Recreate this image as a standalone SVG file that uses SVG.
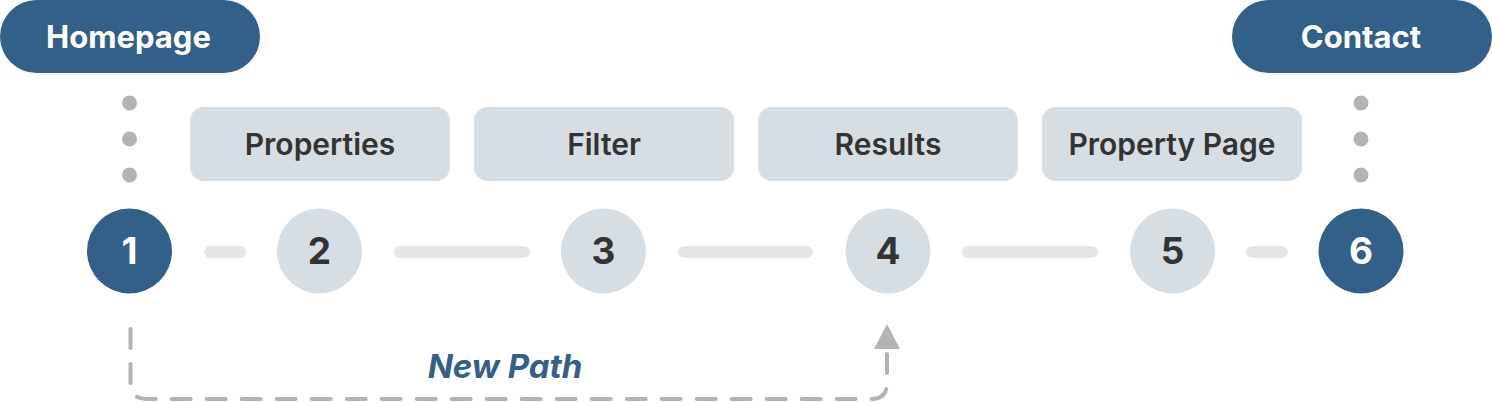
<svg xmlns="http://www.w3.org/2000/svg" width="1492" height="402" viewBox="0 0 1492 402">
<style>
.pill{fill:#336089}
.pilltxt{font-family:Inter,"Noto Sans",sans-serif;font-weight:700;font-size:31px;fill:#ffffff;text-anchor:middle}
.box{fill:#d6dde3}
.boxtxt{font-family:Inter,"Noto Sans",sans-serif;font-weight:600;font-size:30px;fill:#333333;text-anchor:middle}
.dot{fill:#b3b3b3}
.cdark{fill:#336089}
.clight{fill:#d6dde3}
.numw{font-family:Inter,"Noto Sans",sans-serif;font-weight:700;font-size:37px;fill:#ffffff;text-anchor:middle}
.numd{font-family:Inter,"Noto Sans",sans-serif;font-weight:700;font-size:37px;fill:#333333;text-anchor:middle}
.seg{stroke:#e5e5e5;stroke-width:12;stroke-linecap:round;fill:none}
.dash{stroke:#b3b3b3;stroke-width:4;stroke-linecap:round;stroke-dasharray:19 16;fill:none}
.label{font-family:Inter,"Noto Sans",sans-serif;font-weight:700;font-style:italic;font-size:33px;fill:#336089;text-anchor:middle}
</style>
<g id="homepage">
<rect class="pill" x="0" y="0" width="260" height="73" rx="36.5"/>
<text class="pilltxt" x="128.5" y="48">Homepage</text>
</g>
<g id="contact">
<rect class="pill" x="1232" y="0" width="260" height="73" rx="36.5"/>
<text class="pilltxt" x="1361" y="48">Contact</text>
</g>
<g id="properties">
<rect class="box" x="190" y="107" width="260" height="74" rx="14"/>
<text class="boxtxt" x="320" y="155">Properties</text>
</g>
<g id="filter">
<rect class="box" x="474" y="107" width="260" height="74" rx="14"/>
<text class="boxtxt" x="604" y="155">Filter</text>
</g>
<g id="results">
<rect class="box" x="758" y="107" width="260" height="74" rx="14"/>
<text class="boxtxt" x="888" y="155">Results</text>
</g>
<g id="property-page">
<rect class="box" x="1042" y="107" width="260" height="74" rx="14"/>
<text class="boxtxt" x="1172" y="155">Property Page</text>
</g>
<g id="step1">
<circle class="cdark" cx="129.5" cy="251" r="42.5"/>
<text class="numw" x="129.5" y="264">1</text>
</g>
<g id="step2">
<circle class="clight" cx="319.5" cy="251" r="42.5"/>
<text class="numd" x="319.5" y="264">2</text>
</g>
<g id="step3">
<circle class="clight" cx="603.5" cy="251" r="42.5"/>
<text class="numd" x="603.5" y="264">3</text>
</g>
<g id="step4">
<circle class="clight" cx="888" cy="251" r="42.5"/>
<text class="numd" x="888" y="264">4</text>
</g>
<g id="step5">
<circle class="clight" cx="1172.5" cy="251" r="42.5"/>
<text class="numd" x="1172.5" y="264">5</text>
</g>
<g id="step6">
<circle class="cdark" cx="1361" cy="251" r="42.5"/>
<text class="numw" x="1361" y="264">6</text>
</g>
<g id="connectors">
<circle class="dot" cx="129.5" cy="103" r="7.5"/>
<circle class="dot" cx="129.5" cy="139" r="7.5"/>
<circle class="dot" cx="129.5" cy="175" r="7.5"/>
<circle class="dot" cx="1361" cy="103" r="7.5"/>
<circle class="dot" cx="1361" cy="139" r="7.5"/>
<circle class="dot" cx="1361" cy="175" r="7.5"/>
<line class="seg" x1="210" y1="252" x2="240" y2="252"/>
<line class="seg" x1="400" y1="252" x2="524" y2="252"/>
<line class="seg" x1="684" y1="252" x2="807" y2="252"/>
<line class="seg" x1="968" y1="252" x2="1092" y2="252"/>
<line class="seg" x1="1252" y1="252" x2="1282" y2="252"/>
<path class="dash" d="M130.5,329 V383 Q130.5,399 146.5,399 H871 Q887,399 887,383 V350"/>
<polygon fill="#b3b3b3" points="887,324 900,349 874,349"/>
<text class="label" x="505" y="378">New Path</text>
</g>
</svg>
